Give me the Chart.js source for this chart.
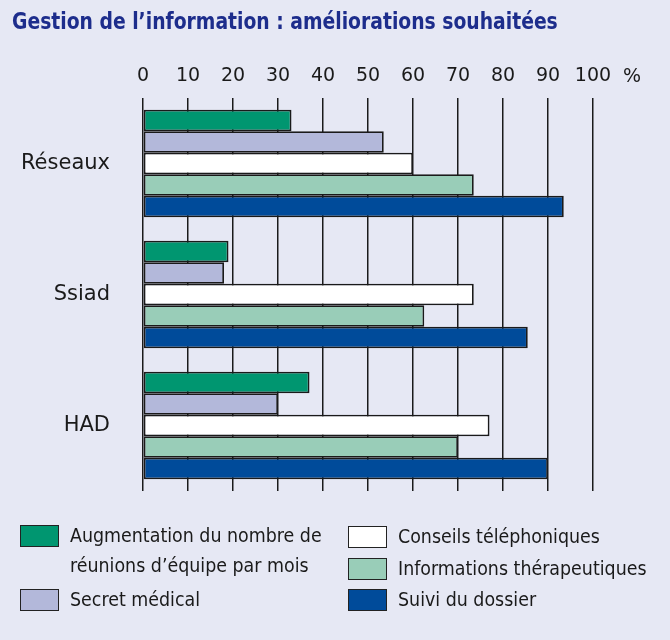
<!DOCTYPE html>
<html lang="fr">
<head>
<meta charset="utf-8">
<script src="https://cdn.jsdelivr.net/npm/chart.js@4.4.1/dist/chart.umd.min.js"></script>
<style>
  body { margin: 0; background: #e6e8f4; }
  .wrap { position: relative; width: 670px; height: 640px; overflow: hidden; }
  canvas { position: absolute; left: 0; top: 0; }
  .title {
    position: absolute; left: 12px; top: 8px; margin: 0;
    font: bold 23px "Liberation Sans Narrow", "DejaVu Sans Condensed", sans-serif;
    color: #1d2d8c; white-space: nowrap;
    transform: scaleX(0.907); transform-origin: 0 0;
  }
  .legend { position: absolute; top: 0; left: 0; width: 670px; font: 19.4px "DejaVu Sans Condensed", sans-serif; color: #1a1a1a; }
  .col { position: absolute; white-space: pre; }
  .item { display: flex; align-items: flex-start; }
  .box { width: 37px; height: 20px; border: 1px solid #222; margin-right: 11px; flex: none; }
</style>
</head>
<body>
<div class="wrap">
  <canvas id="myChart" width="670" height="640"></canvas>
  <h1 class="title">Gestion de l’information : améliorations souhaitées</h1>
  <div class="legend" id="legend"></div>
</div>
<script>
const categories = ["Réseaux", "Ssiad", "HAD"];
const xTicks = [0, 10, 20, 30, 40, 50, 60, 70, 80, 90, 100];

const reunions = [33, 19, 37];
const secret = [53.5, 18, 30];
const conseils = [60, 73.5, 77];
const infos = [73.5, 62.5, 70];
const suivi = [93.5, 85.5, 90];

const seriesNames = [
  "Augmentation du nombre de\nréunions d’équipe par mois",
  "Secret médical",
  "Conseils téléphoniques",
  "Informations thérapeutiques",
  "Suivi du dossier",
];
const seriesData = [reunions, secret, conseils, infos, suivi];
const colors = ["#009670", "#b3b8da", "#ffffff", "#99cdb8", "#004b9a"];

const ctx = document.getElementById("myChart").getContext("2d");

// the "%" after the 100 tick
const percentSign = {
  id: "percentSign",
  afterDraw(chart) {
    const x = chart.scales.x;
    const c = chart.ctx;
    c.save();
    c.font = "19px 'DejaVu Sans'";
    c.fillStyle = "#1a1a1a";
    c.textAlign = "center";
    c.textBaseline = "middle";
    c.fillText("%", x.getPixelForValue(100) + 39, chart.chartArea.top - 21);
    c.restore();
  },
};

const myChart = new Chart(ctx, {
  type: "bar",
  plugins: [percentSign],
  data: {
    labels: categories,
    datasets: seriesData.map((d, i) => ({
      label: seriesNames[i],
      data: d,
      backgroundColor: colors[i],
      borderColor: "#1a1a1a",
      borderWidth: 1.8,
      borderSkipped: false,
      categoryPercentage: 0.82,
      barPercentage: 1,
    })),
  },
  options: {
    indexAxis: "y",
    responsive: false,
    animation: false,
    devicePixelRatio: 1,
    layout: { padding: { top: 50, left: 0, right: 77, bottom: 149 } },
    plugins: {
      legend: { display: false },
      tooltip: { enabled: false },
    },
    scales: {
      x: {
        position: "top",
        min: 0,
        max: 100,
        afterBuildTicks: (s) => {
          s.ticks = xTicks.map((v) => ({ value: v }));
        },
        afterFit: (s) => {
          s.height = 48;
        },
        ticks: {
          padding: 11,
          color: "#1a1a1a",
          font: { family: "DejaVu Sans", size: 19 },
        },
        grid: { color: "#1a1a1a", lineWidth: 1.5, drawTicks: false },
        border: { display: false },
      },
      y: {
        afterFit: (s) => {
          s.width = 143;
        },
        ticks: {
          padding: 25,
          color: "#1a1a1a",
          font: { family: "DejaVu Sans", size: 21 },
        },
        grid: { display: false },
        border: { display: false },
      },
    },
  },
});

// legend in two columns, built from the dataset labels
const legend = document.getElementById("legend");
const cols = [
  { left: 20, top: 521, lh: 30, gap: 4, items: [0, 1] },
  { left: 348, top: 521, lh: 31.7, gap: 0, items: [2, 3, 4] },
];
cols.forEach((col) => {
  const div = document.createElement("div");
  div.className = "col";
  div.style.left = col.left + "px";
  div.style.top = col.top + "px";
  col.items.forEach((i) => {
    const item = document.createElement("div");
    item.className = "item";
    item.style.lineHeight = col.lh + "px";
    item.style.marginBottom = col.gap + "px";
    const box = document.createElement("span");
    box.className = "box";
    box.style.background = colors[i];
    box.style.marginTop = (col.lh - 22) / 2 + "px";
    const text = document.createElement("span");
    text.textContent = seriesNames[i];
    item.appendChild(box);
    item.appendChild(text);
    div.appendChild(item);
  });
  legend.appendChild(div);
});
</script>
</body>
</html>
